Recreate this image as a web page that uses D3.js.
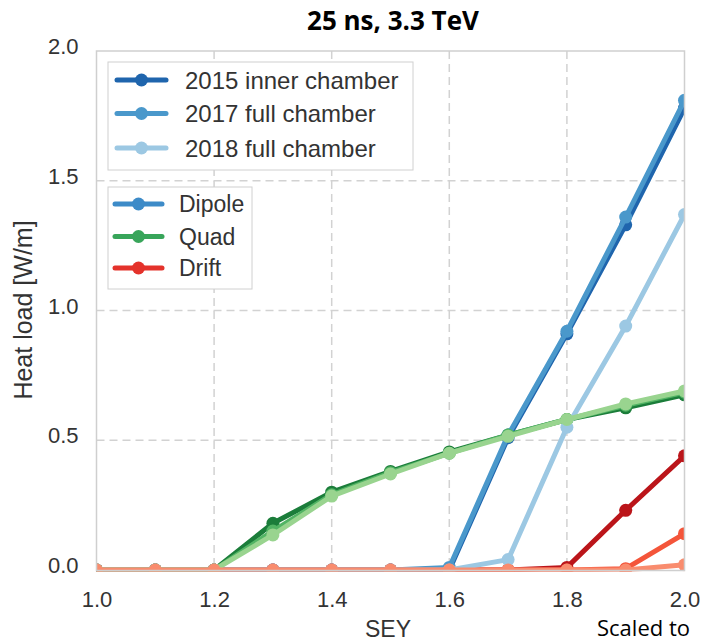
<!DOCTYPE html>
<html>
<head>
<meta charset="utf-8">
<script src="https://cdn.jsdelivr.net/npm/d3@7"></script>
<style>
  html, body { margin: 0; padding: 0; background: #fff; }
  svg { display: block; }
</style>
</head>
<body>
<svg id="chart" width="701" height="644"></svg>
<script>
// SEY scan of the simulated heat load, 25 ns beams at 3.3 TeV
const sey = [1.0, 1.1, 1.2, 1.3, 1.4, 1.5, 1.6, 1.7, 1.8, 1.9, 2.0];

const dipole2015 = [0, 0, 0, 0, 0, 0, 0, 0.51, 0.91, 1.33, 1.78];
const quad2015   = [0, 0, 0, 0.18, 0.30, 0.38, 0.455, 0.52, 0.58, 0.625, 0.675];
const drift2015  = [0, 0, 0, 0, 0, 0, 0, 0, 0.01, 0.23, 0.44];

const dipole2017 = [0, 0, 0, 0, 0, 0, 0.01, 0.52, 0.92, 1.36, 1.81];
const quad2017   = [0, 0, 0, 0.15, 0.29, 0.375, 0.45, 0.52, 0.58, 0.635, 0.685];
const drift2017  = [0, 0, 0, 0, 0, 0, 0, 0, 0, 0.005, 0.14];

const dipole2018 = [0, 0, 0, 0, 0, 0, 0, 0.04, 0.55, 0.94, 1.37];
const quad2018   = [0, 0, 0, 0.135, 0.285, 0.37, 0.45, 0.515, 0.58, 0.64, 0.69];
const drift2018  = [0, 0, 0, 0, 0, 0, 0, 0, 0, 0, 0.02];

const xTicks = [1.0, 1.2, 1.4, 1.6, 1.8, 2.0];
const yTicks = [0.0, 0.5, 1.0, 1.5, 2.0];

const chamberLabels = ["2015 inner chamber", "2017 full chamber", "2018 full chamber"];
const chamberColors = ["#1f65ad", "#4a98cb", "#9cc8e3"];
const elementLabels = ["Dipole", "Quad", "Drift"];
const elementColors = ["#3d8bc8", "#38a55a", "#e4322b"];

// drawing order: chamber by chamber, dipole / quad / drift
const series = [
  { values: dipole2015, color: "#1f65ad" },
  { values: quad2015,   color: "#1b7d3a" },
  { values: drift2015,  color: "#bb151a" },
  { values: dipole2017, color: "#4a98cb" },
  { values: quad2017,   color: "#52b464" },
  { values: drift2017,  color: "#f4553a" },
  { values: dipole2018, color: "#9cc8e3" },
  { values: quad2018,   color: "#99d48f" },
  { values: drift2018,  color: "#f98c6e" }
];

const svg = d3.select("#chart");
const plot = { left: 96.5, right: 684.5, top: 51, bottom: 570.5 };

const x = d3.scaleLinear().domain([1.0, 2.0]).range([plot.left, plot.right]);
const y = d3.scaleLinear().domain([0, 2.0]).range([570, 51]);

const tickFont = "'Liberation Sans', Arial, sans-serif";
const titleFont = "'Open Sans', Lato, sans-serif";

// plot background
svg.append("rect")
  .attr("x", plot.left).attr("y", plot.top)
  .attr("width", plot.right - plot.left).attr("height", plot.bottom - plot.top)
  .attr("fill", "#fff");

// dashed grid
const grid = svg.append("g").attr("stroke", "#d2d2d2").attr("stroke-width", 1.5)
  .attr("stroke-dasharray", "8,5").attr("fill", "none");
grid.selectAll("line.v").data(xTicks.slice(1, -1)).join("line")
  .attr("class", "v")
  .attr("x1", d => x(d)).attr("x2", d => x(d))
  .attr("y1", plot.top).attr("y2", plot.bottom);
grid.selectAll("line.h").data(yTicks.slice(1, -1)).join("line")
  .attr("class", "h")
  .attr("y1", d => y(d)).attr("y2", d => y(d))
  .attr("x1", plot.left).attr("x2", plot.right);

// axes: labels only, no tick marks
const xAxis = d3.axisBottom(x).tickValues(xTicks).tickFormat(d3.format(".1f")).tickSize(0).tickPadding(0);
const yAxis = d3.axisLeft(y).tickValues(yTicks).tickFormat(d3.format(".1f")).tickSize(0).tickPadding(0);

const gx = svg.append("g").attr("transform", `translate(0,${plot.bottom})`).call(xAxis);
gx.select(".domain").remove();
gx.selectAll("text")
  .attr("y", 36).attr("dy", null)
  .attr("font-family", tickFont).attr("font-size", 22).attr("fill", "#333");

const gy = svg.append("g").attr("transform", `translate(${plot.left - 18},0)`).call(yAxis);
gy.select(".domain").remove();
gy.selectAll("text")
  .attr("dy", "0.12em")
  .attr("font-family", tickFont).attr("font-size", 22).attr("fill", "#333");

// data lines, clipped to the plot frame
svg.append("clipPath").attr("id", "plot-clip")
  .append("rect")
  .attr("x", plot.left).attr("y", plot.top)
  .attr("width", plot.right - plot.left).attr("height", plot.bottom - plot.top + 1);

const dataLayer = svg.append("g").attr("clip-path", "url(#plot-clip)");
const line = d3.line().x((d, i) => x(sey[i])).y(d => y(d));

series.forEach(s => {
  const g = dataLayer.append("g");
  g.append("path")
    .attr("d", line(s.values))
    .attr("fill", "none")
    .attr("stroke", s.color)
    .attr("stroke-width", 5)
    .attr("stroke-linejoin", "round");
  g.selectAll("circle").data(s.values).join("circle")
    .attr("cx", (d, i) => x(sey[i]))
    .attr("cy", d => y(d))
    .attr("r", 6.5)
    .attr("fill", s.color);
});

// frame
svg.append("rect")
  .attr("x", plot.left).attr("y", plot.top)
  .attr("width", plot.right - plot.left).attr("height", plot.bottom - plot.top)
  .attr("fill", "none").attr("stroke", "#cfcfcf").attr("stroke-width", 1.5);

// legends
function drawLegend(box, rows, labels, colors, fontSize) {
  const g = svg.append("g");
  g.append("rect")
    .attr("x", box.x).attr("y", box.y).attr("width", box.w).attr("height", box.h)
    .attr("fill", "#fff").attr("stroke", "#d0d0d0").attr("stroke-width", 1);
  labels.forEach((lab, i) => {
    const ry = rows[i];
    g.append("line")
      .attr("x1", box.hx0).attr("x2", box.hx1).attr("y1", ry).attr("y2", ry)
      .attr("stroke", colors[i]).attr("stroke-width", 5).attr("stroke-linecap", "round");
    g.append("circle")
      .attr("cx", (box.hx0 + box.hx1) / 2).attr("cy", ry).attr("r", 6.5)
      .attr("fill", colors[i]);
    g.append("text")
      .attr("x", box.tx).attr("y", ry).attr("dy", "0.36em")
      .attr("font-family", tickFont).attr("font-size", fontSize).attr("fill", "#333")
      .text(lab);
  });
}

drawLegend({ x: 108, y: 62, w: 305, h: 108, hx0: 117, hx1: 166, tx: 185 },
  [80, 113.5, 148], chamberLabels, chamberColors, 24);
drawLegend({ x: 108, y: 187, w: 144, h: 102, hx0: 115, hx1: 162, tx: 179 },
  [204, 236.5, 268], elementLabels, elementColors, 23);

// titles
svg.append("text")
  .attr("x", 393).attr("y", 30)
  .attr("text-anchor", "middle")
  .attr("font-family", titleFont)
  .attr("font-weight", "bold").attr("font-size", 26).attr("fill", "#000")
  .text("25 ns, 3.3 TeV");

svg.append("text")
  .attr("x", 388).attr("y", 637)
  .attr("text-anchor", "middle")
  .attr("font-family", tickFont).attr("font-size", 23).attr("fill", "#333")
  .text("SEY");

svg.append("text")
  .attr("transform", "translate(32,310) rotate(-90)")
  .attr("text-anchor", "middle")
  .attr("font-family", tickFont).attr("font-size", 25).attr("fill", "#333")
  .text("Heat load [W/m]");

svg.append("text")
  .attr("x", 597).attr("y", 636)
  .attr("font-family", titleFont)
  .attr("font-size", 22).attr("fill", "#000")
  .text("Scaled to");
</script>
</body>
</html>
